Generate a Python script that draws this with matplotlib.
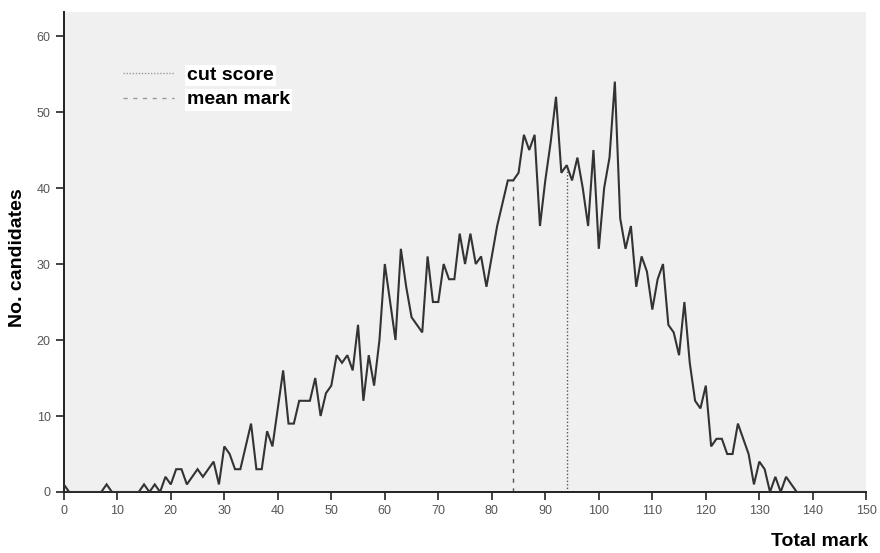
import matplotlib
matplotlib.use("Agg")
import matplotlib.pyplot as plt
from matplotlib.lines import Line2D

# Number of candidates obtaining each total mark (0..150)
marks = list(range(0, 151))
counts = [
    1, 0, 0, 0, 0, 0, 0, 0, 1, 0,            # 0-9
    0, 0, 0, 0, 0, 1, 0, 1, 0, 2,            # 10-19
    1, 3, 3, 1, 2, 3, 2, 3, 4, 1,            # 20-29
    6, 5, 3, 3, 6, 9, 3, 3, 8, 6,            # 30-39
    11, 16, 9, 9, 12, 12, 12, 15, 10, 13,    # 40-49
    14, 18, 17, 18, 16, 22, 12, 18, 14, 20,  # 50-59
    30, 25, 20, 32, 27, 23, 22, 21, 31, 25,  # 60-69
    25, 30, 28, 28, 34, 30, 34, 30, 31, 27,  # 70-79
    31, 35, 38, 41, 41, 42, 47, 45, 47, 35,  # 80-89
    41, 46, 52, 42, 43, 41, 44, 40, 35, 45,  # 90-99
    32, 40, 44, 54, 36, 32, 35, 27, 31, 29,  # 100-109
    24, 28, 30, 22, 21, 18, 25, 17, 12, 11,  # 110-119
    14, 6, 7, 7, 5, 5, 9, 7, 5, 1,           # 120-129
    4, 3, 0, 2, 0, 2, 1, 0, 0, 0,            # 130-139
    0, 0, 0, 0, 0, 0, 0, 0, 0, 0, 0,         # 140-150
]
mean_mark = 84
cut_score = 94
x_ticks = list(range(0, 151, 10))
y_ticks = list(range(0, 61, 10))

fig = plt.figure(figsize=(8.8, 5.53), dpi=100)
ax = fig.add_axes([63.8 / 880, 61 / 553, (866.3 - 63.8) / 880, (492.3 - 12) / 553])
ax.set_facecolor("#f0f0f0")

ax.plot(marks, counts, color="#333333", lw=1.5, solid_joinstyle="miter", zorder=3)

# Reference lines rising from the axis to the curve
ax.vlines(mean_mark, 0, counts[mean_mark], color="#555555", lw=1.0,
          linestyles=(0, (3, 4)), zorder=2)
ax.vlines(cut_score, 0, counts[cut_score], color="#555555", lw=1.0,
          linestyles=(0, (1, 1.5)), zorder=2)

ax.set_xlim(0, 150)
ax.set_ylim(0, 63.2)
ax.set_xticks(x_ticks)
ax.set_yticks(y_ticks)

for side in ("top", "right"):
    ax.spines[side].set_visible(False)
for side in ("left", "bottom"):
    ax.spines[side].set_color("#222222")
    ax.spines[side].set_linewidth(1.4)

ax.tick_params(axis="both", direction="out", length=6, width=1.2, color="#222222",
               labelsize=9, labelcolor="#555555")
for lbl in ax.get_xticklabels() + ax.get_yticklabels():
    lbl.set_family("Liberation Sans")

fig.text(18 / 880, 1 - 258 / 553, "No. candidates", rotation=90, ha="center", va="center",
         fontsize=14, fontweight="bold", family="Liberation Sans")
fig.text(868 / 880, 1 - 541 / 553, "Total mark", ha="right", va="center",
         fontsize=14, fontweight="bold", family="Liberation Sans")

handles = [
    Line2D([], [], color="#999999", lw=1.0, linestyle=(0, (1, 1.2))),
    Line2D([], [], color="#999999", lw=1.0, linestyle=(0, (3, 4))),
]
leg = ax.legend(handles, ["cut score", "mean mark"], loc="upper left",
                bbox_to_anchor=(0.0738, 0.886), frameon=False, borderpad=0,
                borderaxespad=0, handlelength=2.6, handletextpad=0.7,
                labelspacing=0.35,
                prop={"family": "Liberation Sans", "weight": "bold", "size": 14})
for t in leg.get_texts():
    t.set_bbox(dict(facecolor="white", edgecolor="none", pad=1.5))

fig.savefig("out.png", dpi=100)
